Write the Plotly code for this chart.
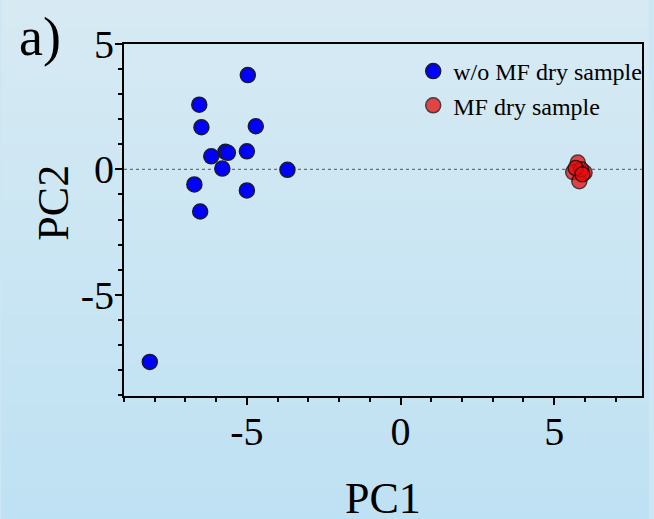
import base64, struct, zlib
import plotly.graph_objects as go

# ---- data ----
wo_mf_pc1 = [-4.97, -6.55, -6.48, -4.71, -6.16, -5.70, -5.62, -5.00, -5.80, -3.68, -6.71, -5.00, -6.52, -8.16]
wo_mf_pc2 = [3.76, 2.58, 1.68, 1.72, 0.52, 0.70, 0.66, 0.72, 0.03, -0.02, -0.60, -0.84, -1.68, -7.68]

mf_pc1 = [5.77, 5.62, 5.99, 5.82, 5.88, 5.70, 5.92]
mf_pc2 = [0.27, -0.11, -0.13, -0.47, 0.00, 0.05, -0.20]

series_names = ["w/o MF dry sample", "MF dry sample"]
x_tickvals = [-5, 0, 5]
x_ticktext = ["-5", "0", "5"]
y_tickvals = [-5, 0, 5]
y_ticktext = ["-5", "0", "5"]

# ---- layout geometry ----
W, H = 654, 519
L, R, T, B = 124, 7, 44, 123
PW, PH = W - L - R, H - T - B


def gradient_png(h, top, bot):
    raw = b""
    for i in range(h):
        f = i / (h - 1)
        c = bytes(int(round(top[k] + (bot[k] - top[k]) * f)) for k in range(3))
        raw += b"\x00" + c
    def chunk(tag, data):
        return struct.pack(">I", len(data)) + tag + data + struct.pack(">I", zlib.crc32(tag + data) & 0xffffffff)
    png = b"\x89PNG\r\n\x1a\n"
    png += chunk(b"IHDR", struct.pack(">IIBBBBB", 1, h, 8, 2, 0, 0, 0))
    png += chunk(b"IDAT", zlib.compress(raw))
    png += chunk(b"IEND", b"")
    return "data:image/png;base64," + base64.b64encode(png).decode()


bg = gradient_png(H, (215, 234, 243), (190, 225, 243))

FONT = "Liberation Serif, Times New Roman, serif"

fig = go.Figure()
fig.add_trace(go.Scatter(
    x=wo_mf_pc1, y=wo_mf_pc2, mode="markers", name=series_names[0],
    marker=dict(color="#0000ff", size=15, line=dict(color="#1a1a33", width=1.5)),
))
fig.add_trace(go.Scatter(
    x=mf_pc1, y=mf_pc2, mode="markers", name=series_names[1],
    marker=dict(color="rgb(232,12,12)", size=15, opacity=0.75,
                line=dict(color="#200000", width=1.5)),
))

axis_common = dict(
    showgrid=False, zeroline=False, showline=True, linecolor="black", linewidth=2,
    mirror=True, ticks="outside", ticklen=7, tickwidth=2, tickcolor="black",
    tickfont=dict(family=FONT, size=40, color="black"),
    minor=dict(dtick=1, ticks="outside", ticklen=4, tickwidth=2, tickcolor="black"),
)

fig.update_xaxes(range=[-9, 7.86], tickvals=x_tickvals, ticktext=x_ticktext,
                 ticklabelstandoff=-8, **axis_common)
fig.update_yaxes(range=[-9.04, 5], tickvals=y_tickvals, ticktext=y_ticktext,
                 ticklabelstandoff=-7, **axis_common)

fig.add_shape(type="line", xref="paper", yref="y", x0=0, x1=1, y0=0, y1=0,
              line=dict(color="#707070", width=1.2, dash="dot"), layer="below")

fig.update_layout(
    width=W, height=H,
    margin=dict(l=L, r=R, t=T, b=B, pad=0),
    paper_bgcolor="rgb(205,230,243)",
    plot_bgcolor="rgba(0,0,0,0)",
    font=dict(family=FONT, color="black"),
    showlegend=True,
    legend=dict(x=(416 - L) / PW, y=1 - (49 - T) / PH, xanchor="left", yanchor="top",
                bgcolor="rgba(0,0,0,0)", borderwidth=0,
                font=dict(family=FONT, size=24, color="black"),
                itemsizing="trace", tracegroupgap=0),
    images=[dict(source=bg, xref="paper", yref="paper",
                 x=-L / PW, y=1 + T / PH, sizex=W / PW, sizey=H / PH,
                 xanchor="left", yanchor="top", sizing="stretch", layer="below")],
    annotations=[
        dict(text="PC1", xref="paper", yref="paper", x=0.5, y=-(499 - T - PH) / PH,
             showarrow=False, font=dict(family=FONT, size=44), yanchor="middle"),
        dict(text="PC2", xref="paper", yref="paper", x=-(L - 52) / PW, y=1 - (203 - T) / PH,
             showarrow=False, textangle=-90, font=dict(family=FONT, size=44),
             xanchor="center", yanchor="middle"),
        dict(text="a)", xref="paper", yref="paper", x=-(L - 39) / PW, y=1 + (T - 37) / PH,
             showarrow=False, font=dict(family=FONT, size=54),
             xanchor="center", yanchor="middle"),
    ],
)

fig.write_html("out.html", config={"displayModeBar": False},
               post_script="document.body.style.margin='0';document.body.style.overflow='hidden';")
